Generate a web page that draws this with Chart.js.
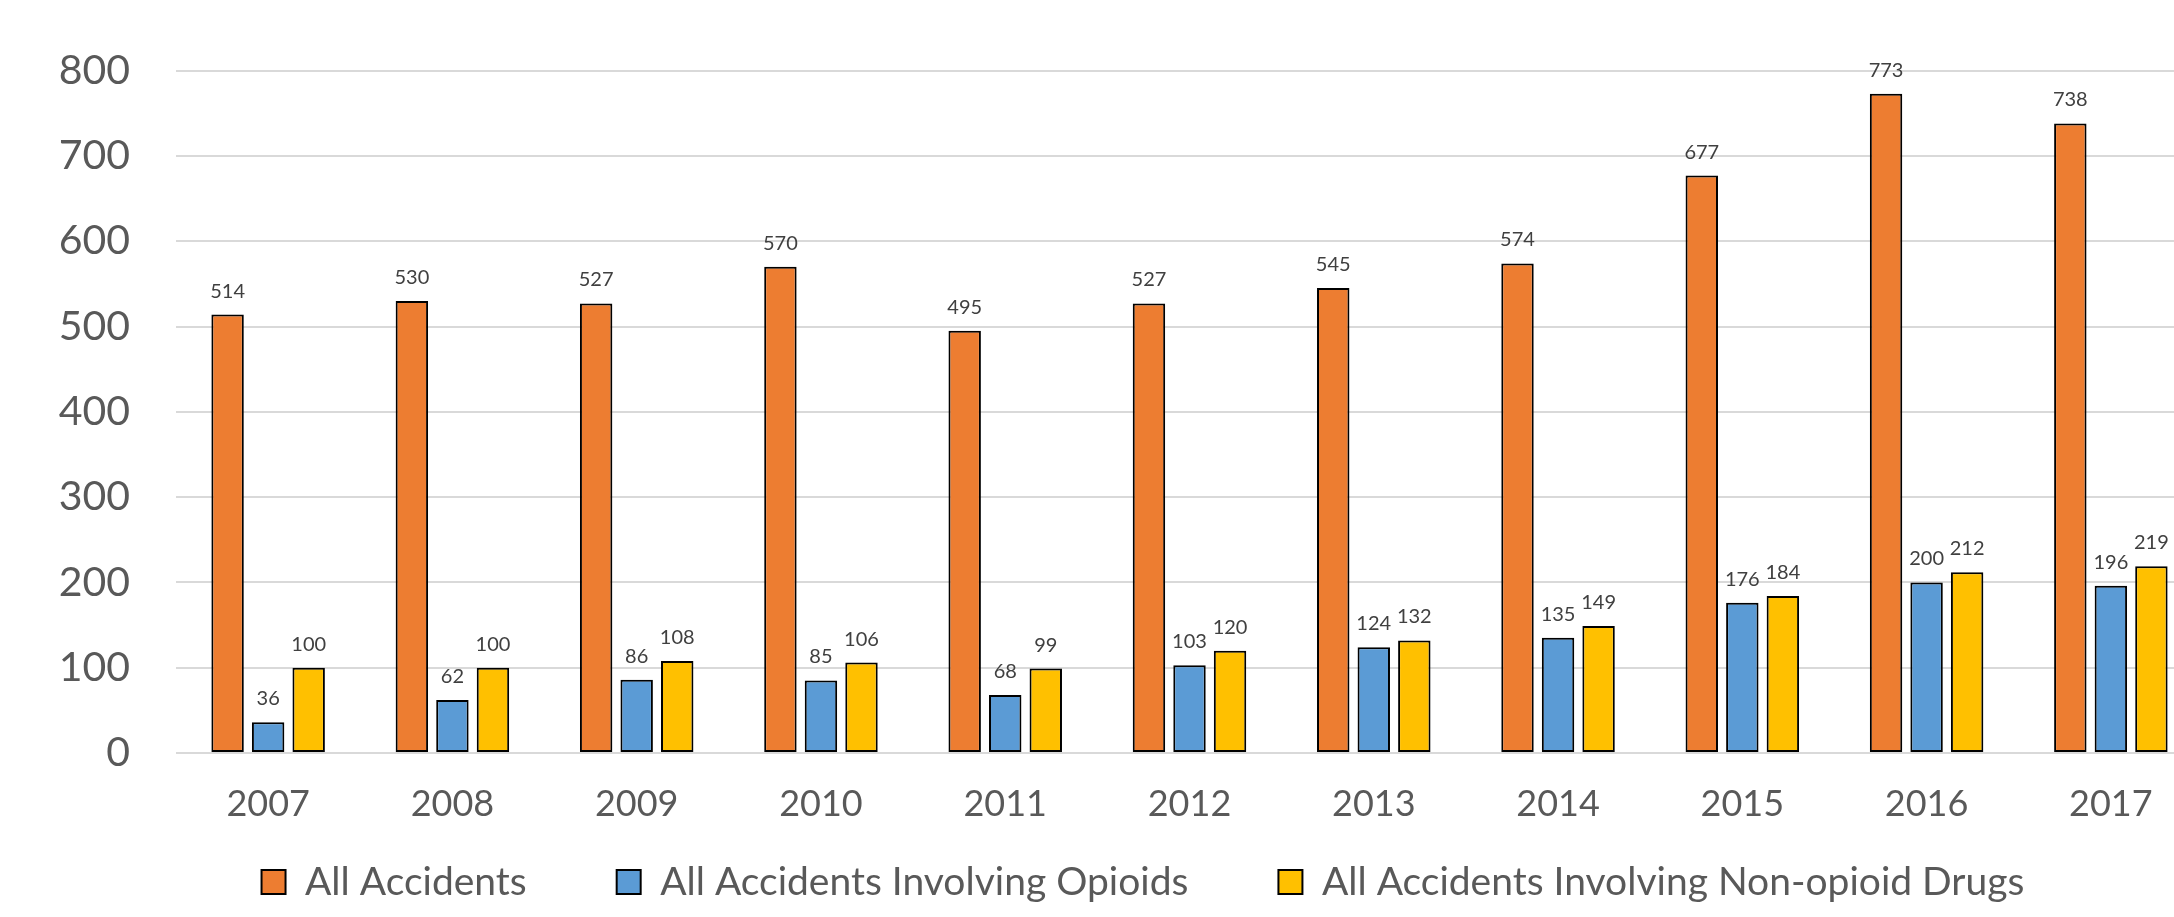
<!DOCTYPE html>
<html>
<head>
<meta charset="utf-8">
<script src="https://cdn.jsdelivr.net/npm/chart.js@4.4.1/dist/chart.umd.min.js"></script>
<style>
  html, body { margin: 0; padding: 0; overflow: hidden; background: #fff; }
  #wrap { position: absolute; left: 0; top: 0; }
</style>
</head>
<body>
<div id="wrap"><canvas id="myChart" width="2203" height="917"></canvas></div>
<script>
var years = ['2007', '2008', '2009', '2010', '2011', '2012', '2013', '2014', '2015', '2016', '2017'];
var allAccidents = [514, 530, 527, 570, 495, 527, 545, 574, 677, 773, 738];
var opioidAccidents = [36, 62, 86, 85, 68, 103, 124, 135, 176, 200, 196];
var nonOpioidAccidents = [100, 100, 108, 106, 99, 120, 132, 149, 184, 212, 219];
var yTicks = [0, 100, 200, 300, 400, 500, 600, 700, 800];

// value printed above every bar
var barValues = {
    id: 'barValues',
    afterDatasetsDraw: function(chart) {
        var ctx = chart.ctx;
        ctx.save();
        ctx.font = '20px Lato';
        ctx.fillStyle = '#404040';
        ctx.textAlign = 'center';
        ctx.textBaseline = 'alphabetic';
        chart.data.datasets.forEach(function(ds, i) {
            chart.getDatasetMeta(i).data.forEach(function(bar, j) {
                ctx.fillText(ds.data[j], bar.x, bar.y - 17);
            });
        });
        ctx.restore();
    }
};

// the legend uses a wide item padding, which would also push it far down;
// pull it back up under the year labels and centre it on the plot
var legendPlace = {
    id: 'legendPlace',
    afterLayout: function(chart) {
        var lg = chart.legend;
        var dx = 41.5;
        lg.top = chart.chartArea.bottom + 19.5;
        lg.bottom = chart.height;
        lg.height = lg.bottom - lg.top;
        lg.left += dx; lg.right += dx;
    }
};

function bars(label, values, colour) {
    return {
        label: label,
        data: values,
        backgroundColor: colour,
        borderColor: '#000000',
        borderWidth: 2,
        borderSkipped: false,
        categoryPercentage: 0.66,
        barPercentage: 0.8
    };
}

var ctx = document.getElementById('myChart').getContext('2d');
var chart = new Chart(ctx, {
    type: 'bar',
    data: {
        labels: years,
        datasets: [
            bars('All Accidents', allAccidents, '#ED7D31'),
            bars('All Accidents Involving Opioids', opioidAccidents, '#5B9BD5'),
            bars('All Accidents Involving Non-opioid Drugs', nonOpioidAccidents, '#FFC000')
        ]
    },
    options: {
        responsive: false,
        animation: false,
        layout: { padding: { left: 0, top: 51, right: 0, bottom: 0 } },
        plugins: {
            tooltip: { enabled: false },
            legend: {
                position: 'bottom',
                maxHeight: 80,
                labels: {
                    font: { family: 'Lato', size: 39 },
                    color: '#595959',
                    boxWidth: 24,
                    boxHeight: 24,
                    padding: 90
                }
            }
        },
        scales: {
            x: {
                grid: { display: false },
                border: { display: false },
                ticks: {
                    font: { family: 'Lato', size: 36 },
                    color: '#595959',
                    padding: 22
                },
                afterFit: function(scale) { scale.height = 84; }
            },
            y: {
                min: 0,
                max: 800,
                afterBuildTicks: function(scale) {
                    scale.ticks = yTicks.map(function(v) { return { value: v }; });
                },
                grid: { color: '#D9D9D9', lineWidth: 2, drawTicks: false },
                border: { display: false },
                ticks: {
                    font: { family: 'Lato', size: 41 },
                    color: '#595959',
                    padding: 46
                },
                afterFit: function(scale) { scale.width = 176; }
            }
        }
    },
    plugins: [barValues, legendPlace]
});
</script>
</body>
</html>
